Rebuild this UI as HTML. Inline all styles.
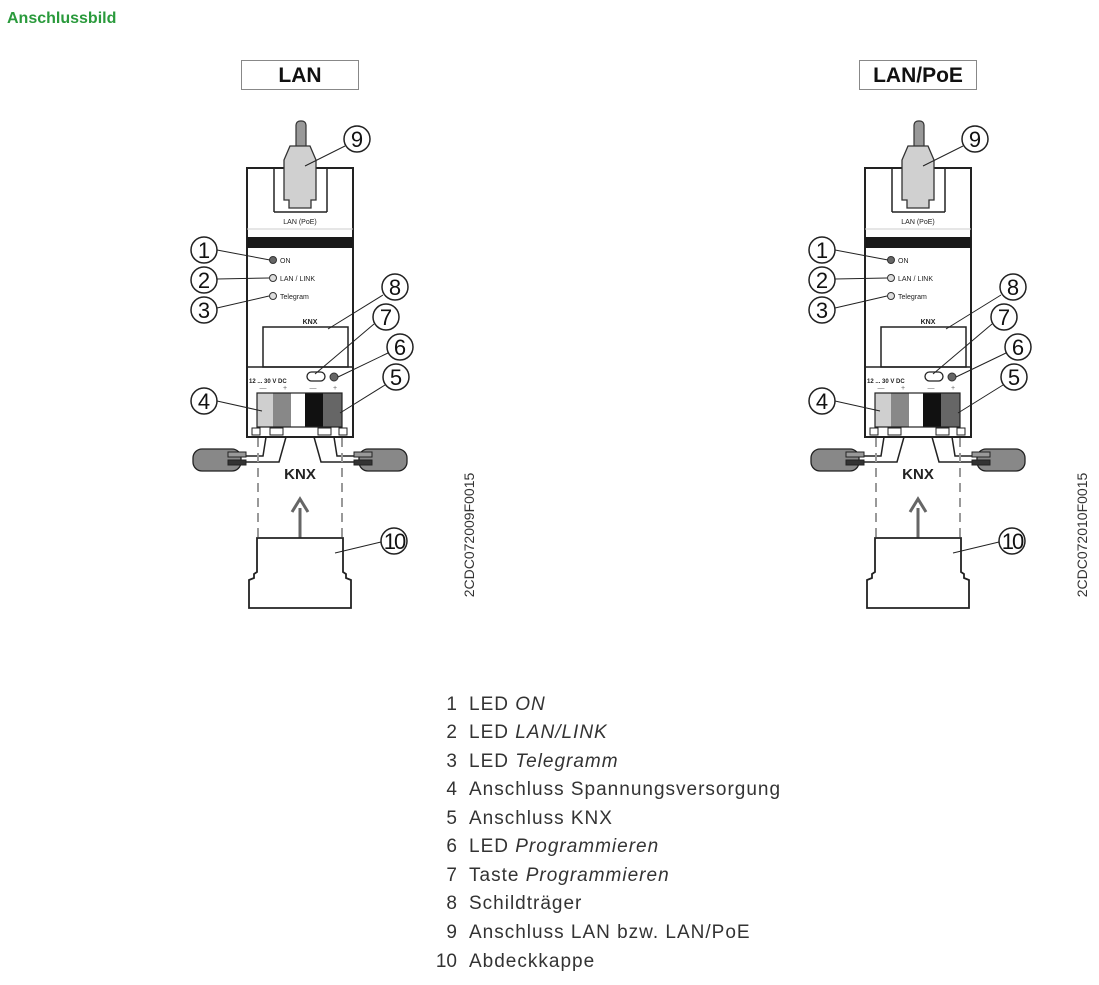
<!DOCTYPE html>
<html><head><meta charset="utf-8"><style>
body{margin:0;background:#fff;}
svg{display:block;font-family:"Liberation Sans",Arial,sans-serif;}
</style></head><body>
<svg width="1099" height="985" viewBox="0 0 1099 985" xmlns="http://www.w3.org/2000/svg">
<text x="7" y="23" font-size="16" fill="#2a9a3c" font-weight="bold">Anschlussbild</text>

<g id="dev1">
<rect x="241.5" y="60.5" width="117" height="29" fill="#fff" stroke="#888" stroke-width="1"/>
<text x="300" y="82" font-size="21" font-weight="bold" text-anchor="middle" fill="#111">LAN</text>
<rect x="247" y="168" width="106" height="269" fill="#fff" stroke="#222" stroke-width="2"/>
<line x1="274" y1="168" x2="274" y2="212" stroke="#222" stroke-width="1.5"/>
<line x1="327" y1="168" x2="327" y2="212" stroke="#222" stroke-width="1.5"/>
<line x1="274" y1="212" x2="327" y2="212" stroke="#222" stroke-width="1.5"/>
<line x1="247" y1="229" x2="353" y2="229" stroke="#ccc" stroke-width="1"/>
<rect x="296" y="121" width="10" height="30" rx="4" fill="#999" stroke="#333" stroke-width="1.2"/>
<path d="M290 146 L310 146 L316 160 L316 200 L311 200 L311 208 L289 208 L289 200 L284 200 L284 160 Z" fill="#d0d0d0" stroke="#333" stroke-width="1.3"/>
<text x="300" y="224" font-size="7" text-anchor="middle" fill="#222">LAN (PoE)</text>
<rect x="247" y="237" width="106" height="11" fill="#1a1a1a"/>
<circle cx="273" cy="260" r="3.5" fill="#666" stroke="#333"/>
<text x="280" y="263" font-size="7" fill="#222">ON</text>
<circle cx="273" cy="278" r="3.5" fill="#ddd" stroke="#333"/>
<text x="280" y="281" font-size="7" fill="#222">LAN / LINK</text>
<circle cx="273" cy="296" r="3.5" fill="#ddd" stroke="#333"/>
<text x="280" y="299" font-size="7" fill="#222">Telegram</text>
<text x="310" y="324" font-size="7" font-weight="bold" text-anchor="middle" fill="#222">KNX</text>
<rect x="263" y="327" width="85" height="40" fill="#fff" stroke="#222" stroke-width="1.5"/>
<line x1="247" y1="367" x2="353" y2="367" stroke="#222" stroke-width="1.5"/>
<rect x="307" y="372" width="18" height="9" rx="4.5" fill="#fff" stroke="#222" stroke-width="1.3"/>
<circle cx="334" cy="377" r="4" fill="#666" stroke="#333"/>
<text x="249" y="383" font-size="6" font-weight="bold" fill="#222">12 ... 30 V DC</text>
<text x="263" y="390" font-size="7" fill="#666" text-anchor="middle">—</text>
<text x="285" y="390" font-size="7" fill="#666" text-anchor="middle">+</text>
<text x="313" y="390" font-size="7" fill="#666" text-anchor="middle">—</text>
<text x="335" y="390" font-size="7" fill="#666" text-anchor="middle">+</text>
<rect x="257" y="393" width="16" height="34" fill="#cfcfcf"/>
<rect x="273" y="393" width="18" height="34" fill="#888"/>
<rect x="305" y="393" width="18" height="34" fill="#111"/>
<rect x="323" y="393" width="19" height="34" fill="#666"/>
<rect x="257" y="393" width="85" height="34" fill="none" stroke="#222" stroke-width="1.2"/>
<rect x="252" y="428" width="8" height="7" fill="#fff" stroke="#222"/>
<rect x="270" y="428" width="13" height="7" fill="#fff" stroke="#222"/>
<rect x="318" y="428" width="13" height="7" fill="#fff" stroke="#222"/>
<rect x="339" y="428" width="8" height="7" fill="#fff" stroke="#222"/>
<path d="M266 437 L263 456 L240 456" fill="none" stroke="#222" stroke-width="1.5"/>
<path d="M286 437 L279 462 L240 462" fill="none" stroke="#222" stroke-width="1.5"/>
<path d="M314 437 L321 462 L360 462" fill="none" stroke="#222" stroke-width="1.5"/>
<path d="M334 437 L337 456 L360 456" fill="none" stroke="#222" stroke-width="1.5"/>
<rect x="193" y="449" width="48" height="22" rx="9" fill="#888" stroke="#222" stroke-width="1.3"/>
<rect x="228" y="452" width="18" height="5" fill="#999" stroke="#222"/>
<rect x="228" y="460" width="18" height="5" fill="#333" stroke="#222"/>
<rect x="359" y="449" width="48" height="22" rx="9" fill="#888" stroke="#222" stroke-width="1.3"/>
<rect x="354" y="452" width="18" height="5" fill="#999" stroke="#222"/>
<rect x="354" y="460" width="18" height="5" fill="#333" stroke="#222"/>
<text x="300" y="479" font-size="15" font-weight="bold" text-anchor="middle" fill="#222">KNX</text>
<line x1="258" y1="438" x2="258" y2="538" stroke="#999" stroke-width="2" stroke-dasharray="9,6"/>
<line x1="342" y1="438" x2="342" y2="538" stroke="#999" stroke-width="2" stroke-dasharray="9,6"/>
<line x1="300" y1="548" x2="300" y2="508" stroke="#666" stroke-width="3"/>
<path d="M292 512 L300 499 L308 512" fill="none" stroke="#666" stroke-width="3"/>
<path d="M257 572 L257 538 L343 538 L343 572 L346 574 L346 578 L351 580 L351 608 L249 608 L249 580 L254 578 L254 574 Z" fill="#fff" stroke="#222" stroke-width="1.8"/>
<g stroke="#222" stroke-width="1" fill="none">
<line x1="217" y1="250" x2="270" y2="260"/>
<line x1="217" y1="279" x2="269" y2="278"/>
<line x1="217" y1="308" x2="269" y2="296"/>
<line x1="217" y1="401" x2="262" y2="411"/>
<line x1="345" y1="146" x2="305" y2="166"/>
<line x1="383" y1="295" x2="328" y2="329"/>
<line x1="374" y1="324" x2="315" y2="374"/>
<line x1="388" y1="353" x2="338" y2="377"/>
<line x1="385" y1="385" x2="340" y2="413"/>
<line x1="381" y1="542" x2="335" y2="553"/>
</g>
<g fill="#fff" stroke="#222" stroke-width="1.5">
<circle cx="204" cy="250" r="13"/><circle cx="204" cy="280" r="13"/><circle cx="204" cy="310" r="13"/>
<circle cx="204" cy="401" r="13"/><circle cx="357" cy="139" r="13"/><circle cx="395" cy="287" r="13"/>
<circle cx="386" cy="317" r="13"/><circle cx="400" cy="347" r="13"/><circle cx="396" cy="377" r="13"/>
<circle cx="394" cy="541" r="13"/>
</g>
<g font-size="22" text-anchor="middle" fill="#111">
<text x="204" y="258">1</text><text x="204" y="288">2</text><text x="204" y="318">3</text>
<text x="204" y="409">4</text><text x="357" y="147">9</text><text x="395" y="295">8</text>
<text x="386" y="325">7</text><text x="400" y="355">6</text><text x="396" y="385">5</text>
<text x="394" y="549" letter-spacing="-2">10</text>
</g>
</g>
<text transform="translate(474,535) rotate(-90)" font-size="14" text-anchor="middle" fill="#333">2CDC072009F0015</text>

<g transform="translate(618,0)">
<rect x="241.5" y="60.5" width="117" height="29" fill="#fff" stroke="#888" stroke-width="1"/>
<text x="300" y="82" font-size="21" font-weight="bold" text-anchor="middle" fill="#111">LAN/PoE</text>
<rect x="247" y="168" width="106" height="269" fill="#fff" stroke="#222" stroke-width="2"/>
<line x1="274" y1="168" x2="274" y2="212" stroke="#222" stroke-width="1.5"/>
<line x1="327" y1="168" x2="327" y2="212" stroke="#222" stroke-width="1.5"/>
<line x1="274" y1="212" x2="327" y2="212" stroke="#222" stroke-width="1.5"/>
<line x1="247" y1="229" x2="353" y2="229" stroke="#ccc" stroke-width="1"/>
<rect x="296" y="121" width="10" height="30" rx="4" fill="#999" stroke="#333" stroke-width="1.2"/>
<path d="M290 146 L310 146 L316 160 L316 200 L311 200 L311 208 L289 208 L289 200 L284 200 L284 160 Z" fill="#d0d0d0" stroke="#333" stroke-width="1.3"/>
<text x="300" y="224" font-size="7" text-anchor="middle" fill="#222">LAN (PoE)</text>
<rect x="247" y="237" width="106" height="11" fill="#1a1a1a"/>
<circle cx="273" cy="260" r="3.5" fill="#666" stroke="#333"/>
<text x="280" y="263" font-size="7" fill="#222">ON</text>
<circle cx="273" cy="278" r="3.5" fill="#ddd" stroke="#333"/>
<text x="280" y="281" font-size="7" fill="#222">LAN / LINK</text>
<circle cx="273" cy="296" r="3.5" fill="#ddd" stroke="#333"/>
<text x="280" y="299" font-size="7" fill="#222">Telegram</text>
<text x="310" y="324" font-size="7" font-weight="bold" text-anchor="middle" fill="#222">KNX</text>
<rect x="263" y="327" width="85" height="40" fill="#fff" stroke="#222" stroke-width="1.5"/>
<line x1="247" y1="367" x2="353" y2="367" stroke="#222" stroke-width="1.5"/>
<rect x="307" y="372" width="18" height="9" rx="4.5" fill="#fff" stroke="#222" stroke-width="1.3"/>
<circle cx="334" cy="377" r="4" fill="#666" stroke="#333"/>
<text x="249" y="383" font-size="6" font-weight="bold" fill="#222">12 ... 30 V DC</text>
<text x="263" y="390" font-size="7" fill="#666" text-anchor="middle">—</text>
<text x="285" y="390" font-size="7" fill="#666" text-anchor="middle">+</text>
<text x="313" y="390" font-size="7" fill="#666" text-anchor="middle">—</text>
<text x="335" y="390" font-size="7" fill="#666" text-anchor="middle">+</text>
<rect x="257" y="393" width="16" height="34" fill="#cfcfcf"/>
<rect x="273" y="393" width="18" height="34" fill="#888"/>
<rect x="305" y="393" width="18" height="34" fill="#111"/>
<rect x="323" y="393" width="19" height="34" fill="#666"/>
<rect x="257" y="393" width="85" height="34" fill="none" stroke="#222" stroke-width="1.2"/>
<rect x="252" y="428" width="8" height="7" fill="#fff" stroke="#222"/>
<rect x="270" y="428" width="13" height="7" fill="#fff" stroke="#222"/>
<rect x="318" y="428" width="13" height="7" fill="#fff" stroke="#222"/>
<rect x="339" y="428" width="8" height="7" fill="#fff" stroke="#222"/>
<path d="M266 437 L263 456 L240 456" fill="none" stroke="#222" stroke-width="1.5"/>
<path d="M286 437 L279 462 L240 462" fill="none" stroke="#222" stroke-width="1.5"/>
<path d="M314 437 L321 462 L360 462" fill="none" stroke="#222" stroke-width="1.5"/>
<path d="M334 437 L337 456 L360 456" fill="none" stroke="#222" stroke-width="1.5"/>
<rect x="193" y="449" width="48" height="22" rx="9" fill="#888" stroke="#222" stroke-width="1.3"/>
<rect x="228" y="452" width="18" height="5" fill="#999" stroke="#222"/>
<rect x="228" y="460" width="18" height="5" fill="#333" stroke="#222"/>
<rect x="359" y="449" width="48" height="22" rx="9" fill="#888" stroke="#222" stroke-width="1.3"/>
<rect x="354" y="452" width="18" height="5" fill="#999" stroke="#222"/>
<rect x="354" y="460" width="18" height="5" fill="#333" stroke="#222"/>
<text x="300" y="479" font-size="15" font-weight="bold" text-anchor="middle" fill="#222">KNX</text>
<line x1="258" y1="438" x2="258" y2="538" stroke="#999" stroke-width="2" stroke-dasharray="9,6"/>
<line x1="342" y1="438" x2="342" y2="538" stroke="#999" stroke-width="2" stroke-dasharray="9,6"/>
<line x1="300" y1="548" x2="300" y2="508" stroke="#666" stroke-width="3"/>
<path d="M292 512 L300 499 L308 512" fill="none" stroke="#666" stroke-width="3"/>
<path d="M257 572 L257 538 L343 538 L343 572 L346 574 L346 578 L351 580 L351 608 L249 608 L249 580 L254 578 L254 574 Z" fill="#fff" stroke="#222" stroke-width="1.8"/>
<g stroke="#222" stroke-width="1" fill="none">
<line x1="217" y1="250" x2="270" y2="260"/>
<line x1="217" y1="279" x2="269" y2="278"/>
<line x1="217" y1="308" x2="269" y2="296"/>
<line x1="217" y1="401" x2="262" y2="411"/>
<line x1="345" y1="146" x2="305" y2="166"/>
<line x1="383" y1="295" x2="328" y2="329"/>
<line x1="374" y1="324" x2="315" y2="374"/>
<line x1="388" y1="353" x2="338" y2="377"/>
<line x1="385" y1="385" x2="340" y2="413"/>
<line x1="381" y1="542" x2="335" y2="553"/>
</g>
<g fill="#fff" stroke="#222" stroke-width="1.5">
<circle cx="204" cy="250" r="13"/><circle cx="204" cy="280" r="13"/><circle cx="204" cy="310" r="13"/>
<circle cx="204" cy="401" r="13"/><circle cx="357" cy="139" r="13"/><circle cx="395" cy="287" r="13"/>
<circle cx="386" cy="317" r="13"/><circle cx="400" cy="347" r="13"/><circle cx="396" cy="377" r="13"/>
<circle cx="394" cy="541" r="13"/>
</g>
<g font-size="22" text-anchor="middle" fill="#111">
<text x="204" y="258">1</text><text x="204" y="288">2</text><text x="204" y="318">3</text>
<text x="204" y="409">4</text><text x="357" y="147">9</text><text x="395" y="295">8</text>
<text x="386" y="325">7</text><text x="400" y="355">6</text><text x="396" y="385">5</text>
<text x="394" y="549" letter-spacing="-2">10</text>
</g>
</g>
<text transform="translate(1087,535) rotate(-90)" font-size="14" text-anchor="middle" fill="#333">2CDC072010F0015</text>

<g font-size="19" fill="#333">
<g text-anchor="end">
<text x="457" y="710">1</text><text x="457" y="738">2</text><text x="457" y="767">3</text>
<text x="457" y="795">4</text><text x="457" y="824">5</text><text x="457" y="852">6</text>
<text x="457" y="881">7</text><text x="457" y="909">8</text><text x="457" y="938">9</text>
<text x="457" y="967">10</text>
</g>
<g letter-spacing="1">
<text x="469" y="710">LED <tspan font-style="italic">ON</tspan></text>
<text x="469" y="738">LED <tspan font-style="italic">LAN/LINK</tspan></text>
<text x="469" y="767">LED <tspan font-style="italic">Telegramm</tspan></text>
<text x="469" y="795">Anschluss Spannungsversorgung</text>
<text x="469" y="824">Anschluss KNX</text>
<text x="469" y="852">LED <tspan font-style="italic">Programmieren</tspan></text>
<text x="469" y="881">Taste <tspan font-style="italic">Programmieren</tspan></text>
<text x="469" y="909">Schildträger</text>
<text x="469" y="938">Anschluss LAN bzw. LAN/PoE</text>
<text x="469" y="967">Abdeckkappe</text>
</g>
</g>
</svg>
</body></html>
